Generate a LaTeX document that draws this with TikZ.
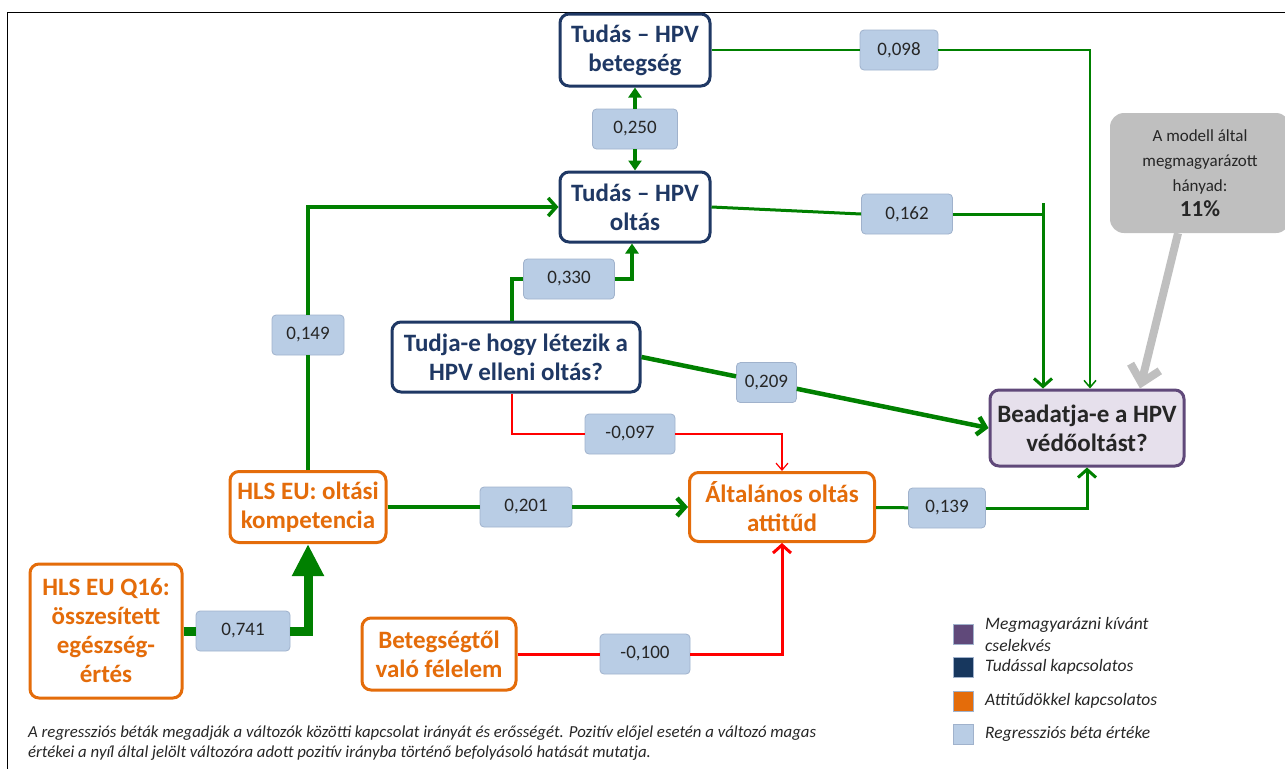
\documentclass[tikz,border=0pt]{standalone}
\usepackage{fontspec}
\setmainfont{Carlito}
\usetikzlibrary{arrows.meta,calc}

\definecolor{darkgreen}{RGB}{0,128,0}
\definecolor{knowblue}{RGB}{31,56,100}
\definecolor{legnavy}{RGB}{23,55,94}
\definecolor{attorange}{RGB}{228,108,10}
\definecolor{goalpurple}{RGB}{96,73,122}
\definecolor{goalfill}{RGB}{230,224,236}
\definecolor{betafill}{RGB}{185,205,229}
\definecolor{betaline}{RGB}{160,178,204}
\definecolor{notegray}{RGB}{191,191,191}

\begin{document}
\begin{tikzpicture}[x=1pt,y=-1pt,
  var/.style={draw,line width=3pt,rounded corners=9pt,fill=white,align=center,
    inner sep=2pt,font=\fontsize{25}{29}\selectfont\bfseries},
  know/.style={var,draw=knowblue,text=knowblue},
  attit/.style={var,draw=attorange,text=attorange},
  goal/.style={var,draw=goalpurple,fill=goalfill,text=black!85},
  beta/.style={draw=betaline,fill=betafill,line width=0.8pt,rounded corners=4pt,
    minimum width=#1,minimum height=40pt,inner sep=0pt,text=black!85,
    font=\fontsize{19}{22}\selectfont},
  beta/.default=88pt,
  notebox/.style={fill=notegray,rounded corners=14pt,minimum width=180pt,
    minimum height=120pt,align=center,text=black!85,font=\fontsize{17}{25}\selectfont},
  legtext/.style={anchor=west,align=left,inner sep=0pt,text=black!85,
    font=\fontsize{17.5}{22}\selectfont\itshape},
  poslink/.style={darkgreen,line width=#1},
  neglink/.style={red,line width=#1},
  openhead/.style={-{Straight Barb[length=8pt,width=18pt]}},
  thinhead/.style={-{Straight Barb[length=7pt,width=12pt]}},
  headtri/.style={-{Triangle[length=10pt,width=13pt]}}]
\useasboundingbox (0,0) rectangle (1285,769);
\draw[line width=1pt] (1285,12) -| (7,769);

% variables
\node[know,minimum width=150pt,minimum height=72pt] (betegseg) at (635,50) {Tudás – HPV\\betegség};
\node[know,minimum width=150pt,minimum height=70pt] (oltas) at (635,207) {Tudás – HPV\\oltás};
\node[know,minimum width=248pt,minimum height=70pt] (tudja) at (516,357) {Tudja-e hogy létezik a\\HPV elleni oltás?};
\node[attit,minimum width=156pt,minimum height=71pt] (kompetencia) at (308,507) {HLS EU: oltási\\kompetencia};
\node[attit,minimum width=185pt,minimum height=69pt] (attitud) at (782,507) {Általános oltás\\attitűd};
\node[goal,minimum width=194pt,minimum height=76pt] (beadatja) at (1087,428) {Beadatja-e a HPV\\védőoltást?};
\node[attit,minimum width=152pt,minimum height=134pt] (osszes) at (106,631) {HLS EU Q16:\\összesített\\egészség-\\értés};
\node[attit,minimum width=154pt,minimum height=72pt] (felelem) at (439,654) {Betegségtől\\való félelem};

% betas
\node[beta=85pt] (b250) at (635,129) {0,250};
\node[beta=91pt] (b330) at (569,279) {0,330};
\node[beta=72pt] (b149) at (308,335) {0,149};
\node[beta=78pt] (b098) at (899,50) {0,098};
\node[beta=91pt] (b162) at (907,214) {0,162};
\node[beta=60pt] (b209) at ($(tudja.east)!0.36!(beadatja.west)$) {0,209};
\node[beta=90pt] (b097) at (630,434) {-0,097};
\node[beta=92pt] (b201) at (526,507) {0,201};
\node[beta=77pt] (b139) at (947,508) {0,139};
\node[beta=94pt] (b741) at (243,631) {0,741};
\node[beta=90pt] (b100) at (645,654) {-0,100};

% paths
\draw[poslink=1.5pt] (betegseg) -- (b098);
\draw[poslink=1.5pt,thinhead] (b098.east) -| ([xshift=3pt]beadatja.north);
\coordinate (tee) at (1043,203);
\draw[poslink=3pt] (oltas.east) -- (b162.west);
\draw[poslink=3pt] (b162.east) -- (b162.east -| tee);
\draw[poslink=3pt,openhead] (tee) -- (tee |- beadatja.north);
\draw[poslink=4pt,headtri] (b250) -- (betegseg);
\draw[poslink=4pt,headtri] (b250) -- (oltas);
\draw[poslink=4pt] ([xshift=-4pt]tudja.north) |- (b330.west);
\draw[poslink=4pt,headtri] (b330.east) -| ([xshift=-3pt]oltas.south);
\draw[poslink=3.5pt] (kompetencia) -- (b149);
\draw[poslink=3.5pt,openhead] (b149.north) |- (oltas.west);
\draw[poslink=4.5pt] (tudja.east) -- (b209);
\draw[poslink=4.5pt,openhead] (b209) -- (beadatja.west);
\draw[neglink=1.2pt] ([xshift=-4pt]tudja.south) |- (b097.west);
\draw[neglink=1.2pt,thinhead] (b097.east) -| (attitud.north);
\draw[poslink=4.5pt] (kompetencia) -- (b201);
\draw[poslink=4.5pt,openhead] (b201) -- (attitud);
\draw[poslink=3pt] (attitud) -- (b139);
\draw[poslink=3pt,openhead] (b139.east) -| (beadatja.south);
\draw[poslink=9pt] (osszes) -- (b741);
\draw[poslink=9pt,-{Triangle[length=32pt,width=30pt]}] (b741.east) -| (kompetencia.south);
\draw[neglink=3pt] (felelem) -- (b100);
\draw[neglink=3pt,openhead] (b100.east) -| (attitud.south);

% explained share
\node[notebox] (share) at (1200,173) {A modell által\\megmagyarázott\\hányad:\\{\bfseries\fontsize{23}{25}\selectfont 11\%}};
\draw[notegray,line width=8pt,-{Straight Barb[length=16pt,width=30pt]}] ([xshift=-22pt]share.south) -- ([xshift=53pt]beadatja.north);

% legend
\foreach \col/\txt/\yy [count=\i] in {goalpurple/{Megmagyarázni kívánt\\cselekvés}/634,
    legnavy/Tudással kapcsolatos/667, attorange/Attitűdökkel kapcsolatos/701,
    betafill/Regressziós béta értéke/734} {
  \draw[betaline,fill=\col] (953,\yy-10) rectangle (973,\yy+10);
  \node[legtext] (leg\i) at (985,\yy) {\txt};
}

\node[anchor=north west,align=left,inner sep=0pt,text=black!85,
  font=\fontsize{16.8}{20}\selectfont\itshape] (footnote) at (28,726)
  {A regressziós béták megadják a változók közötti kapcsolat irányát és erősségét. Pozitív előjel esetén a változó magas\\
   értékei a nyíl által jelölt változóra adott pozitív irányba történő befolyásoló hatását mutatja.};
\end{tikzpicture}
\end{document}
